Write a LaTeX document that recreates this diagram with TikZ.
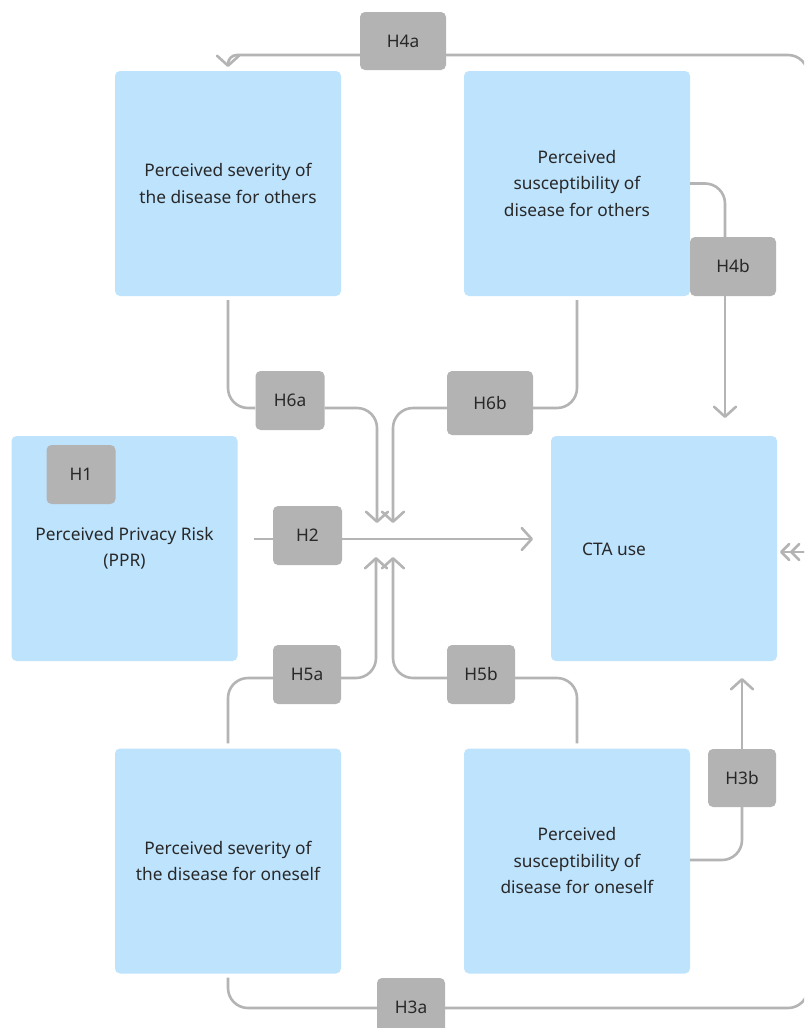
\documentclass[tikz,border=0pt]{standalone}
\usepackage{fontspec}
\setmainfont{Noto Sans}
\usetikzlibrary{arrows.meta,calc}
\definecolor{boxblue}{RGB}{190,227,253}
\definecolor{hgray}{RGB}{179,179,179}
\definecolor{lgray}{RGB}{180,180,180}
\definecolor{txt}{RGB}{40,40,40}
\begin{document}
\begin{tikzpicture}[x=1pt,y=-1pt,
  bluebox/.style={fill=boxblue, rounded corners=5pt, minimum width=226pt, minimum height=225pt, inner sep=0pt, align=center, text=txt, font=\fontsize{17.3}{26.5}\selectfont},
  plain/.style={inner sep=0pt, align=center, text=txt, font=\fontsize{17.3}{26.5}\selectfont},
  hyp/.style={fill=hgray, rounded corners=5pt, minimum width=69pt, minimum height=59pt, inner sep=0pt, text=txt, font=\fontsize{17.3}{20}\selectfont},
  conn/.style={draw=lgray, line width=2.6pt, rounded corners=20pt},
  tip/.style={-{Straight Barb[length=10pt,width=22pt,round]}},
  smalltip/.style={-{Straight Barb[length=8pt,width=16pt,round]}}
]
\useasboundingbox (0,0) rectangle (804,1028);
\clip (0,0) rectangle (804,1028);
\fill[white] (0,0) rectangle (804,1028);

% main boxes
\node[bluebox] (sevoth) at (228,183.5) {Perceived severity of\\the disease for others};
\node[bluebox] (susoth) at (577,183.5) {Perceived\\susceptibility of\\disease for others};
\node[bluebox] (ppr) at (124.5,548.5) {Perceived Privacy Risk\\(PPR)};
\node[bluebox] (cta) at (664,548.5) {};
\node[plain] (ctatext) at (614,549) {CTA use};
\node[bluebox] (sevself) at (228,861) {Perceived severity of\\the disease for oneself};
\node[bluebox] (susself) at (577,861) {Perceived\\susceptibility of\\disease for oneself};

% hypothesis labels
\node[hyp, minimum width=86pt, minimum height=58pt] (h4a) at (403,41) {H4a};
\node[hyp, minimum width=86pt] (h4b) at (733,266.5) {H4b};
\node[hyp] (h6a) at (290,400.5) {H6a};
\node[hyp, minimum width=86pt, minimum height=64pt] (h6b) at (490,403) {H6b};
\node[hyp] (h1) at (81,474.5) {H1};
\node[hyp] (h2) at (307.5,535.5) {H2};
\node[hyp, minimum width=68pt] (h5a) at (307,674.5) {H5a};
\node[hyp, minimum width=68pt] (h5b) at (481,674.5) {H5b};
\node[hyp, minimum width=68pt, minimum height=58pt] (h3b) at (742,778) {H3b};
\node[hyp, minimum width=68pt, minimum height=58pt] (h3a) at (411,1007) {H3a};

% helper coordinates
\coordinate (y4a) at (0,55);
\coordinate (y6) at (0,408);
\coordinate (y2) at (0,539);
\coordinate (y5) at (0,678);
\coordinate (y3a) at (0,1008);
\coordinate (y3b) at (0,860);
\coordinate (rr) at (808,549);
\coordinate (tipA) at (780,552);
\coordinate (tipB) at (790,552);
\coordinate (m6a) at (377,523);
\coordinate (m6b) at (393,523);
\coordinate (s2) at (254,539);
\coordinate (m2) at (533,539);
\coordinate (m5a) at (376,557);
\coordinate (m5b) at (393,557);
\coordinate (t4b) at (725,418);
\coordinate (t3b) at (742,678);
\coordinate (t4a) at (228,67);

% H4a
\draw[conn,tip,rounded corners=9pt] (h4a.west |- y4a) -| (t4a);
\draw[conn] (h4a.east |- y4a) -| (rr);
\draw[conn,smalltip] (rr |- tipB) -- (tipB);
% H3a
\draw[conn] ([yshift=-4pt]sevself.south) |- (h3a.west |- y3a);
\draw[conn] (h3a.east |- y3a) -| (rr);
\draw[conn,smalltip] (rr |- tipA) -- (tipA);
% H4b
\draw[conn] (susoth.east) -| ([xshift=-8pt]h4b.north);
\draw[conn,tip] ([xshift=-8pt]h4b.south) -- (t4b);
% H6a
\draw[conn] ([yshift=-4pt]sevoth.south) |- (h6a.west |- y6);
\draw[conn,tip] (h6a.east |- y6) -| (m6a);
% H6b
\draw[conn] ([yshift=-4pt]susoth.south) |- (h6b.east |- y6);
\draw[conn,tip] (h6b.west |- y6) -| (m6b);
% H2
\draw[conn] (s2) -- (h2.west |- y2);
\draw[conn,tip] (h2.east |- y2) -- (m2);
% H5a
\draw[conn] ([yshift=5pt]sevself.north) |- (h5a.west |- y5);
\draw[conn,tip] (h5a.east |- y5) -| (m5a);
% H5b
\draw[conn] ([yshift=5pt]susself.north) |- (h5b.east |- y5);
\draw[conn,tip] (h5b.west |- y5) -| (m5b);
% H3b
\draw[conn] (susself.east |- y3b) -| (h3b.south);
\draw[conn,tip] (h3b.north) -- (t3b);
\end{tikzpicture}
\end{document}
